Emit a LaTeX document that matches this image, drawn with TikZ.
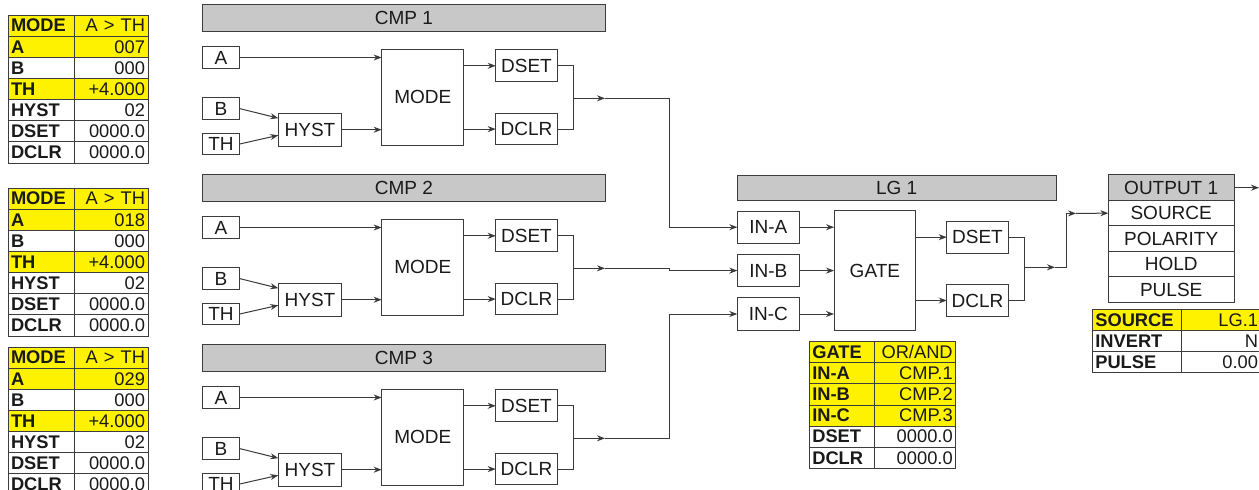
\documentclass[tikz,border=0pt]{standalone}
\usepackage{fontspec}
\setmainfont{Liberation Sans}
\usetikzlibrary{positioning,arrows.meta}
\definecolor{ink}{HTML}{1A1A1A}
\definecolor{bord}{HTML}{3C3C3C}
\definecolor{wirec}{HTML}{3A3A3A}
\definecolor{barc}{HTML}{C8C8C8}
\definecolor{hl}{HTML}{FFF200}

\begin{document}
\begin{tikzpicture}[x=1pt, y=-1pt,
  font=\fontsize{19}{20}\selectfont,
  blk/.style={draw=bord, line width=1pt, fill=white, text=ink, inner sep=0pt, outer sep=0pt},
  hdr/.style={blk, fill=barc},
  cellL/.style={blk, text width=#1, inner xsep=3pt, minimum height=21.15pt, align=left, font=\fontsize{18.3}{20}\selectfont\bfseries, anchor=north west},
  cellR/.style={blk, text width=#1, inner xsep=3pt, minimum height=21.15pt, align=right, font=\fontsize{18.3}{20}\selectfont, anchor=north west},
  ln/.style={line width=1pt, draw=wirec},
  arr/.style={ln, -{Stealth[length=8pt, width=6pt]}}]
\useasboundingbox (0,0) rectangle (1259,490);
\clip (0,0) rectangle (1259,490);
\fill[white] (0,0) rectangle (1259,490);
% ---------------- comparator settings
\foreach \t/\top/\aval in {1/15/007, 2/188/018, 3/347/029}{
  \foreach \lab/\val/\bg [count=\k] in {MODE/A > TH/hl, A/\aval/hl, B/000/white, TH/+4.000/hl, HYST/02/white, DSET/0000.0/white, DCLR/0000.0/white}{
    \node[cellL=60pt, fill=\bg] (p\t-\k) at (8,{\top+(\k-1)*21.15}) {\lab};
    \node[cellR=68pt, fill=\bg] (v\t-\k) at (74,{\top+(\k-1)*21.15}) {\val};
  }
}
% ---------------- comparator blocks
\foreach \i in {1,2,3}{
  \begin{scope}[shift={(0,{170*(\i-1)})}]
    \node[hdr, minimum width=402.3pt, minimum height=26.7pt] (cmp\i) at (403.9,18.3) {CMP \i};
    \node[blk, minimum width=36.6pt, minimum height=21.6pt] (a\i) at (221,57.5) {A};
    \node[blk, minimum width=36.6pt, minimum height=21.6pt] (b\i) at (221,108.5) {B};
    \node[blk, minimum width=36.6pt, minimum height=21.6pt, below=14pt of b\i] (th\i) {TH};
    \node[blk, minimum width=63.4pt, minimum height=32.7pt] (hyst\i) at (310,129.7) {HYST};
    \node[blk, minimum width=82.3pt, minimum height=96pt] (mode\i) at (422.8,97.3) {MODE};
    \node[blk, minimum width=61.6pt, minimum height=31.7pt] (dset\i) at (526.5,65.8) {DSET};
    \node[blk, minimum width=61.6pt, minimum height=31.7pt, below=31.6pt of dset\i] (dclr\i) {DCLR};
    \coordinate (j\i) at (573.3,98.3);
    \coordinate (out\i) at (605,98.3);
    \draw[arr] (a\i) -- (a\i -| mode\i.west);
    \draw[arr] (b\i.east) -- (hyst\i.160);
    \draw[arr] (th\i.east) -- (hyst\i.190);
    \draw[arr] (hyst\i) -- (hyst\i -| mode\i.west);
    \draw[arr] (dset\i -| mode\i.east) -- (dset\i);
    \draw[arr] (dclr\i -| mode\i.east) -- (dclr\i);
    \draw[ln] (dset\i.east) -| (j\i) |- (dclr\i.east);
    \draw[arr] (j\i) -- (out\i);
  \end{scope}
}
% ---------------- logic gate
\node[hdr, minimum width=318.7pt, minimum height=25pt] (lg) at (896.7,188.2) {LG 1};
\node[blk, minimum width=62pt, minimum height=32.4pt] (ina) at (768.3,227.2) {IN-A};
\node[blk, minimum width=62pt, minimum height=32.4pt, below=11pt of ina] (inb) {IN-B};
\node[blk, minimum width=62pt, minimum height=32.4pt, below=11pt of inb] (inc) {IN-C};
\node[blk, minimum width=81.7pt, minimum height=120pt] (gate) at (874.9,270.7) {GATE};
\node[blk, minimum width=61.6pt, minimum height=32.3pt] (lgdset) at (977.5,237.2) {DSET};
\node[blk, minimum width=61.6pt, minimum height=32.3pt, below=31pt of lgdset] (lgdclr) {DCLR};
\coordinate (bus) at (669.3,0);
\draw[arr] (out1) -| (bus |- ina.west) -- (ina.west);
\draw[arr] (out2) -| (bus |- inb.west) -- (inb.west);
\draw[arr] (out3) -| (bus |- inc.west) -- (inc.west);
\draw[arr] (ina) -- (ina -| gate.west);
\draw[arr] (inb) -- (inb -| gate.west);
\draw[arr] (inc) -- (inc -| gate.west);
\draw[arr] (lgdset -| gate.east) -- (lgdset);
\draw[arr] (lgdclr -| gate.east) -- (lgdclr);
\coordinate (lgj) at (1024.3,267.3);
\coordinate (lgout) at (1055,267.3);
\draw[ln] (lgdset.east) -| (lgj) |- (lgdclr.east);
\draw[arr] (lgj) -- (lgout);
\foreach \lab/\val/\bg [count=\k] in {GATE/OR\slash AND/hl, IN-A/CMP.1/hl, IN-B/CMP.2/hl, IN-C/CMP.3/hl, DSET/0000.0/white, DCLR/0000.0/white}{
  \node[cellL=59pt, fill=\bg] (g\k) at (809.3,{341.7+(\k-1)*21.1}) {\lab};
  \node[cellR=75.4pt, fill=\bg] (gv\k) at (874.3,{341.7+(\k-1)*21.1}) {\val};
}
% ---------------- output
\node[hdr, minimum width=125.7pt, minimum height=25.46pt] (outp) at (1171.2,187.7) {OUTPUT 1};
\node[blk, minimum width=125.7pt, minimum height=25.46pt, below=0pt of outp] (src) {SOURCE};
\node[blk, minimum width=125.7pt, minimum height=25.46pt, below=0pt of src] (pol) {POLARITY};
\node[blk, minimum width=125.7pt, minimum height=25.46pt, below=0pt of pol] (hold) {HOLD};
\node[blk, minimum width=125.7pt, minimum height=25.46pt, below=0pt of hold] (pulse) {PULSE};
\coordinate (bus2) at (1066.7,0);
\coordinate (srcin) at (1076,213.4);
\coordinate (outend) at (1259,187.7);
\draw[arr] (lgout) -| (bus2 |- srcin) -- (srcin);
\draw[arr] (srcin) -- (src.west);
\draw[arr] (outp.east) -- (outend);
\foreach \lab/\val/\bg [count=\k] in {SOURCE/LG.1/hl, INVERT/N/white, PULSE/0.00/white}{
  \node[cellL=82.7pt, fill=\bg] (s\k) at (1092.3,{309.3+(\k-1)*21}) {\lab};
  \node[cellR=74pt, fill=\bg] (sv\k) at (1181,{309.3+(\k-1)*21}) {\val};
}
\end{tikzpicture}
\end{document}
